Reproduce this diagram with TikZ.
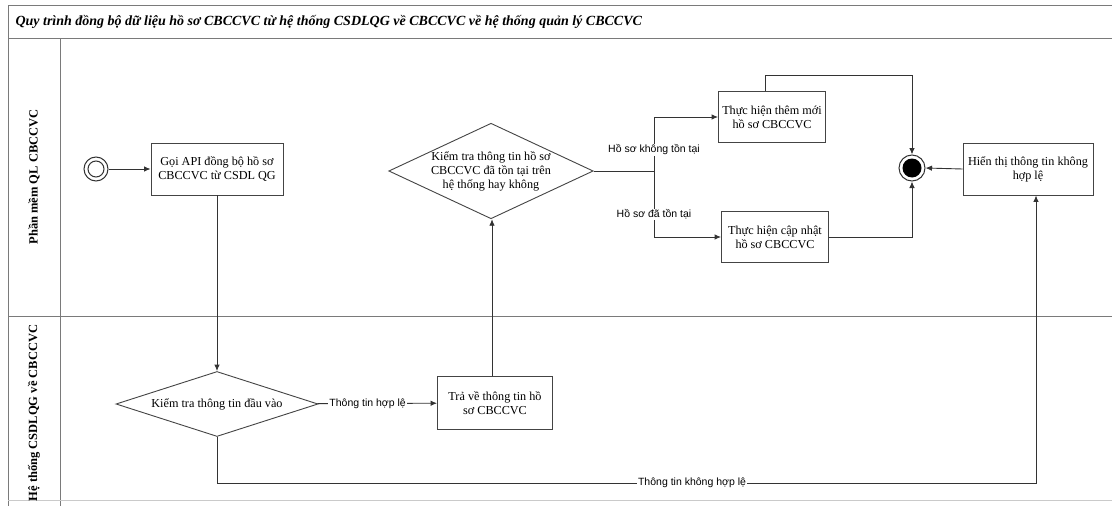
\documentclass[tikz,border=0pt]{standalone}
\usepackage{fontspec}
\setmainfont{Liberation Serif}
\setsansfont{Liberation Sans}
\usetikzlibrary{arrows.meta,shapes.geometric}
\definecolor{lanegray}{HTML}{7A7A7A}
\definecolor{boxgray}{HTML}{444444}
\definecolor{linegray}{HTML}{333333}
\begin{document}
\begin{tikzpicture}[x=1pt,y=-1pt,
  lane/.style={draw=lanegray,line width=1pt},
  taskbox/.style={draw=boxgray,line width=0.9pt,fill=white,align=center,
    font=\fontsize{12.2}{14}\selectfont,inner sep=2pt},
  choice/.style={diamond,draw=boxgray,line width=0.9pt,fill=white,align=center,
    font=\fontsize{12.2}{14}\selectfont,inner sep=0pt},
  flow/.style={draw=linegray,line width=0.9pt,-{Latex[length=6.5pt,width=5.5pt]}},
  plain/.style={draw=linegray,line width=0.9pt},
  elabel/.style={fill=white,inner sep=1pt,font=\sffamily\fontsize{10.5}{12}\selectfont},
  lanelabel/.style={rotate=90,font=\bfseries\fontsize{12.5}{14}\selectfont}
]
\useasboundingbox (0,0) rectangle (1112,506);
\fill[white] (0,0) rectangle (1112,506);

% pool frame and lanes
\draw[lane] (1112,5) -- (8,5) -- (8,506);
\draw[lane] (8,38) -- (1112,38);
\draw[lane] (60,38) -- (60,506);
\draw[lane] (8,316) -- (1112,316);
\draw[draw=lanegray!40,line width=0.6pt] (8,500) -- (1112,500);

\node[anchor=west,font=\bfseries\itshape\fontsize{14}{16}\selectfont] (title) at (12,22)
  {Quy trình đồng bộ dữ liệu hồ sơ CBCCVC từ hệ thống CSDLQG về CBCCVC về hệ thống quản lý CBCCVC};
\node[lanelabel] (lane1) at (34,177) {Phần mềm QL CBCCVC};
\node[lanelabel] (lane2) at (34,413) {Hệ thống CSDLQG về CBCCVC};

% start and end events
\node[circle,draw=linegray,line width=1pt,minimum size=24pt,inner sep=0pt] (start) at (96,169) {};
\draw[linegray,line width=1pt] (start.center) circle (8pt);
\node[circle,draw=linegray,line width=1pt,minimum size=26pt,inner sep=0pt] (finish) at (912,168) {};
\fill[black] (finish.center) circle (9.5pt);

% tasks and decisions
\node[taskbox,minimum width=132pt,minimum height=52pt] (callapi) at (217,169)
  {Gọi API đồng bộ hồ sơ\\CBCCVC từ CSDL QG};
\node[choice,shape aspect=2.14,minimum width=201pt,minimum height=94pt] (exists) at (491,171)
  {Kiểm tra thông tin hồ sơ\\CBCCVC đã tồn tại trên\\hệ thống hay không};
\node[taskbox,minimum width=107pt,minimum height=51pt] (addnew) at (772,117)
  {Thực hiện thêm mới\\hồ sơ CBCCVC};
\node[taskbox,minimum width=107pt,minimum height=51pt] (update) at (775,237)
  {Thực hiện cập nhật\\hồ sơ CBCCVC};
\node[taskbox,minimum width=130pt,minimum height=52pt] (invalid) at (1028,169)
  {Hiển thị thông tin không\\hợp lệ};
\node[choice,shape aspect=3.1,minimum width=202pt,minimum height=65pt] (checkin) at (217,404)
  {Kiểm tra thông tin đầu vào};
\node[taskbox,minimum width=115pt,minimum height=53pt] (ret) at (495,403)
  {Trả về thông tin hồ\\sơ CBCCVC};

% connectors
\coordinate (split) at (654,171);
\coordinate (upper) at (765,75);
\coordinate (lowline) at (217,483);

\draw[flow] (start) -- (callapi);
\draw[flow] (callapi) -- (checkin);
\draw[flow] (checkin) -- node[elabel,pos=0.42] (ok) {Thông tin hợp lệ} (ret);
\draw[flow] (ret.north -| 492,0) -- (exists.south -| 492,0);
\draw[plain] (exists.east) -- (split);
\draw[flow] (split) |- node[elabel,pos=0.195] (notex) {Hồ sơ không tồn tại} (addnew.west);
\draw[flow] (split) |- node[elabel,pos=0.33] (ex) {Hồ sơ đã tồn tại} (update.west);
\draw[flow] (addnew.north -| upper) -- (upper) -| (finish.north);
\draw[flow] (update.east) -| (finish.south);
\draw[flow] (invalid.west) -- (finish.east);
\draw[flow] (checkin.south) -- (lowline) -| node[elabel,pos=0.29] (bad) {Thông tin không hợp lệ} (invalid.south -| 1036,0);
\end{tikzpicture}
\end{document}
